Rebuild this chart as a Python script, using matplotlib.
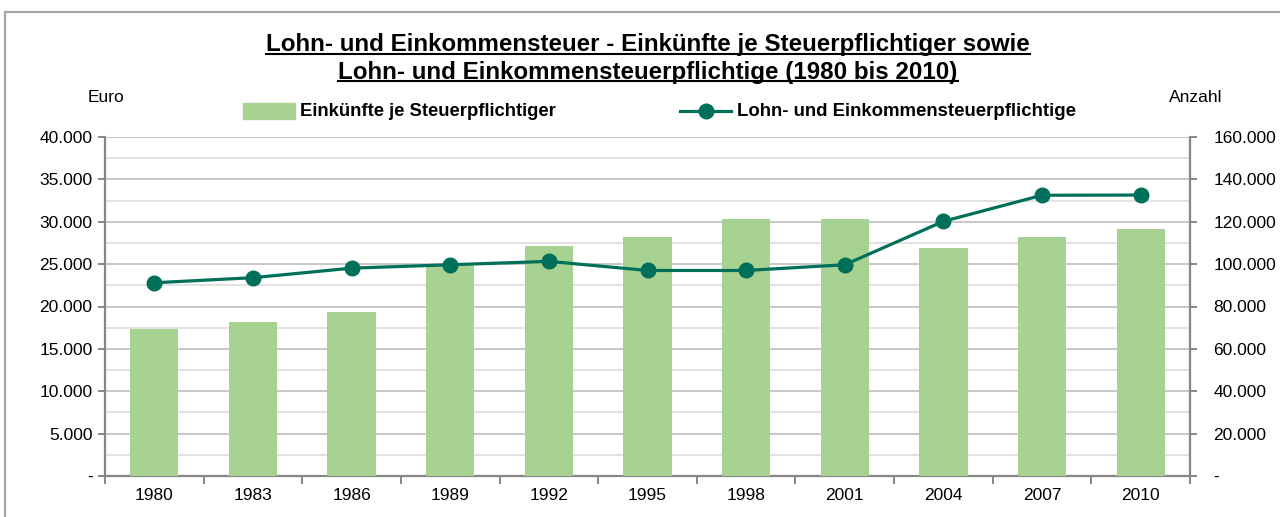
import matplotlib
matplotlib.use("Agg")
import matplotlib.pyplot as plt
from matplotlib.lines import Line2D
from matplotlib.patches import Rectangle
from matplotlib.ticker import FuncFormatter, MultipleLocator, FixedLocator

plt.rcParams['font.family'] = ['Liberation Sans Narrow', 'Liberation Sans', 'DejaVu Sans']

years = ['1980', '1983', '1986', '1989', '1992', '1995', '1998', '2001', '2004', '2007', '2010']
einkuenfte = [17400, 18200, 19400, 24900, 27100, 28200, 30300, 30300, 26900, 28200, 29100]
pflichtige = [91200, 93600, 98100, 99700, 101300, 97000, 97000, 99700, 120200, 132500, 132600]

bar_col = '#a8d291'
line_col = '#00705a'
axis_col = '#868686'

fig = plt.figure(figsize=(12.8, 5.17), dpi=100)
# grey frame around the chart
fig.patches.append(Rectangle((5 / 1280, -0.1), 1.2, 1 - 12 / 517 + 0.1, transform=fig.transFigure,
                             fill=False, edgecolor='#a6a6a6', linewidth=1.6))

ax = fig.add_axes([105 / 1280, 1 - 476 / 517, (1190 - 105) / 1280, (476 - 137) / 517])
x = list(range(len(years)))
ax.bar(x, einkuenfte, width=0.49, color=bar_col, zorder=3)

ax.set_xlim(-0.5, len(years) - 0.5)
ax.set_ylim(0, 40000)
ax.yaxis.set_major_locator(MultipleLocator(5000))
ax.yaxis.set_minor_locator(MultipleLocator(2500))


def de_fmt(v, pos):
    if v == 0:
        return '-'
    return f'{int(v):,}'.replace(',', '.')


ax.yaxis.set_major_formatter(FuncFormatter(de_fmt))
ax.grid(axis='y', which='major', color='#c8c8c8', linewidth=1.4, zorder=0)
ax.grid(axis='y', which='minor', color='#e2e2e2', linewidth=1.4, zorder=0)
ax.tick_params(axis='y', which='minor', length=0)
ax.tick_params(axis='y', which='major', length=5, width=1.4, color=axis_col, labelsize=12.5, pad=4)

ax.set_xticks(x)
ax.set_xticklabels(years)
ax.xaxis.set_minor_locator(FixedLocator([i - 0.5 for i in range(len(years) + 1)]))
ax.tick_params(axis='x', which='major', length=0, labelsize=12.5, pad=9)
ax.tick_params(axis='x', which='minor', length=6, width=1.4, color=axis_col)

for s in ['top', 'right']:
    ax.spines[s].set_visible(False)
for s in ['left', 'bottom']:
    ax.spines[s].set_color(axis_col)
    ax.spines[s].set_linewidth(1.6)

ax2 = ax.twinx()
ax2.plot(x, pflichtige, color=line_col, linewidth=2.3, marker='o', markersize=10.5, zorder=4)
ax2.set_ylim(0, 160000)
ax2.yaxis.set_major_locator(MultipleLocator(20000))
ax2.yaxis.set_major_formatter(FuncFormatter(de_fmt))
ax2.tick_params(axis='y', length=5, width=1.4, color=axis_col, labelsize=12.5, pad=12)
for s in ['top', 'left', 'bottom']:
    ax2.spines[s].set_visible(False)
ax2.spines['right'].set_color(axis_col)
ax2.spines['right'].set_linewidth(1.6)

fig.text(88 / 1280, 1 - 98 / 517, 'Euro', fontsize=12.5, ha='left', va='center')
fig.text(1222 / 1280, 1 - 98 / 517, 'Anzahl', fontsize=12.5, ha='right', va='center')

# legend
fig.patches.append(Rectangle((243 / 1280, 1 - 119 / 517), 52 / 1280, 16 / 517,
                             transform=fig.transFigure, color=bar_col))
fig.text(300 / 1280, 1 - 111 / 517, 'Einkünfte je Steuerpflichtiger', fontsize=13.3,
         fontweight='bold', ha='left', va='center')
fig.lines.append(Line2D([680 / 1280, 731 / 1280], [1 - 111 / 517] * 2, transform=fig.transFigure,
                        color=line_col, linewidth=2.3))
fig.lines.append(Line2D([705.5 / 1280], [1 - 111 / 517], transform=fig.transFigure,
                        color=line_col, marker='o', markersize=10.5, linestyle='none'))
fig.text(737 / 1280, 1 - 111 / 517, 'Lohn- und Einkommensteuerpflichtige', fontsize=13.4,
         fontweight='bold', ha='left', va='center')

# underlined two-line title
titles = ['Lohn- und Einkommensteuer - Einkünfte je Steuerpflichtiger sowie',
          'Lohn- und Einkommensteuerpflichtige (1980 bis 2010)']
title_objs = []
for i, t in enumerate(titles):
    title_objs.append(fig.text(648 / 1280, 1 - (45 + 27 * i) / 517, t, fontsize=17.4,
                               fontweight='bold', ha='center', va='center'))

fig.canvas.draw()
r = fig.canvas.get_renderer()
for tobj in title_objs:
    bb = tobj.get_window_extent(r).transformed(fig.transFigure.inverted())
    fig.lines.append(Line2D([bb.x0, bb.x1], [bb.y0 + 0.004] * 2, transform=fig.transFigure,
                            color='black', linewidth=1.5))

fig.savefig('out.png', dpi=100)
